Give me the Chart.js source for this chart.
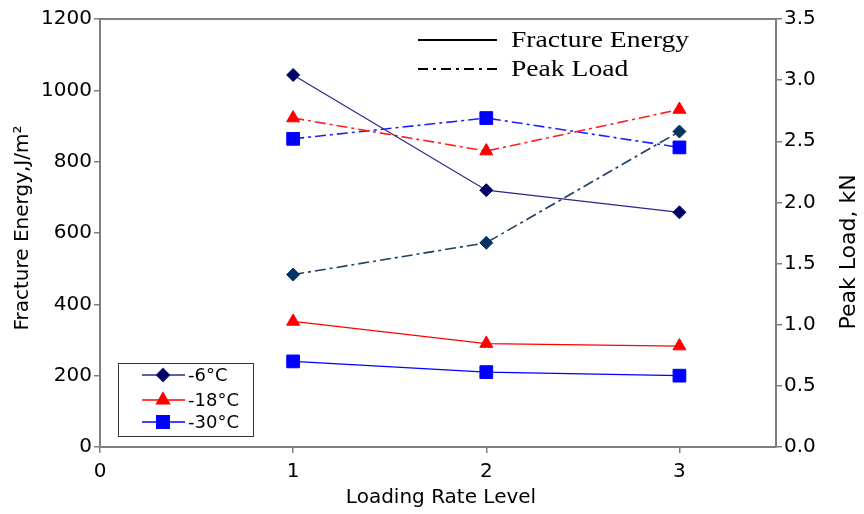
<!DOCTYPE html>
<html>
<head>
<meta charset="utf-8">
<script src="https://cdn.jsdelivr.net/npm/chart.js@4.4.1/dist/chart.umd.min.js"></script>
<style>
  html, body { margin: 0; padding: 0; background: #fff; }
  #wrap { width: 864px; height: 514px; }
</style>
</head>
<body>
<div id="wrap"><canvas id="chart" width="864" height="514"></canvas></div>
<script>
// --- data
var loadingLevels = [1, 2, 3];
var seriesNames = ['-6°C', '-18°C', '-30°C'];

// fracture energy, J/m2 (left axis)
var energyM6 = [1043, 720, 658];
var energyM18 = [352, 290, 283];
var energyM30 = [240, 210, 200];

// peak load, kN (right axis)
var loadM6 = [1.41, 1.67, 2.58];
var loadM18 = [2.69, 2.42, 2.76];
var loadM30 = [2.52, 2.69, 2.45];

var energyTicks = [0, 200, 400, 600, 800, 1000, 1200];
var loadTicks = [0, 0.5, 1, 1.5, 2, 2.5, 3, 3.5];
var xTicks = [0, 1, 2, 3];

var xTitle = 'Loading Rate Level';
var yTitle = 'Fracture Energy,J/m²';
var y1Title = 'Peak Load, kN';

// --- helpers
var dashDot = [11, 4, 3, 4];
function pts(vals) {
    return vals.map(function (v, i) { return { x: loadingLevels[i], y: v }; });
}
function series(label, vals, axis, color, markColor, shape, radius, dash, width) {
    return {
        label: label,
        data: pts(vals),
        yAxisID: axis,
        borderColor: color,
        backgroundColor: markColor,
        pointBackgroundColor: markColor,
        pointBorderColor: markColor,
        pointStyle: shape,
        pointRadius: radius,
        pointBorderWidth: 1,
        borderWidth: width,
        borderDash: dash,
        tension: 0,
        fill: false
    };
}
function fixedTicks(list) {
    return function (ax) { ax.ticks = list.map(function (v) { return { value: v }; }); };
}

var axisGray = '#7f7f7f';
var sans = '"DejaVu Sans", "Liberation Sans", Arial, sans-serif';
var tickFont = { family: sans, size: 20 };

// frame, axis titles and the two legends
var decorPlugin = {
    id: 'decor',
    afterDraw: function (chart) {
        var ctx = chart.ctx, a = chart.chartArea;
        ctx.save();
        // top border of the frame
        ctx.strokeStyle = axisGray;
        ctx.lineWidth = 2;
        ctx.beginPath();
        ctx.moveTo(a.left, a.top);
        ctx.lineTo(a.right, a.top);
        ctx.stroke();

        // axis titles
        ctx.fillStyle = '#000';
        ctx.font = '20px ' + sans;
        ctx.textAlign = 'center';
        ctx.textBaseline = 'middle';
        ctx.fillText(xTitle, 441, 498);
        ctx.save();
        ctx.translate(23, 228);
        ctx.rotate(-Math.PI / 2);
        ctx.fillText(yTitle, 0, 0);
        ctx.restore();
        ctx.save();
        ctx.font = '22px ' + sans;
        ctx.translate(849, 252);
        ctx.rotate(-Math.PI / 2);
        ctx.fillText(y1Title, 0, 0);
        ctx.restore();
        ctx.textAlign = 'left';

        // line style legend (top right)
        ctx.strokeStyle = '#000';
        ctx.lineWidth = 2;
        ctx.beginPath();
        ctx.moveTo(418, 40); ctx.lineTo(497, 40);
        ctx.stroke();
        ctx.setLineDash([10, 5, 3, 5]);
        ctx.beginPath();
        ctx.moveTo(418, 69); ctx.lineTo(497, 69);
        ctx.stroke();
        ctx.setLineDash([]);
        ctx.save();
        ctx.scale(1.2, 1);
        ctx.font = '23px "Liberation Serif", "Times New Roman", serif';
        ctx.fillText('Fracture Energy', 511 / 1.2, 41);
        ctx.fillText('Peak Load', 511 / 1.2, 70);
        ctx.restore();

        // temperature legend (bottom left box)
        ctx.strokeStyle = '#333';
        ctx.lineWidth = 1;
        ctx.strokeRect(118.5, 363.5, 135, 73);
        var ys = [375, 400, 422];
        var sets = chart.data.datasets.slice(0, 3);
        sets.forEach(function (ds, i) {
            ctx.strokeStyle = ds.borderColor;
            ctx.lineWidth = 1.3;
            ctx.beginPath();
            ctx.moveTo(142, ys[i]); ctx.lineTo(185, ys[i]);
            ctx.stroke();
            Chart.helpers.drawPoint(ctx, {
                pointStyle: ds.pointStyle,
                radius: ds.pointRadius,
                borderWidth: 1,
                rotation: 0
            }, 163, ys[i]);
            ctx.fillStyle = ds.pointBackgroundColor;
            ctx.fill();
            ctx.fillStyle = '#000';
            ctx.font = '18px ' + sans;
            ctx.fillText(ds.label, 188, ys[i] + 1);
        });
        ctx.restore();
    }
};

new Chart(document.getElementById('chart'), {
    type: 'line',
    data: {
        datasets: [
            series(seriesNames[0], energyM6, 'y', '#2a2a8c', '#000066', 'rectRot', 6.5, [], 1.3),
            series(seriesNames[1], energyM18, 'y', '#ff0000', '#ff0000', 'triangle', 7.5, [], 1.3),
            series(seriesNames[2], energyM30, 'y', '#0000ff', '#0000ff', 'rect', 9, [], 1.3),
            series(seriesNames[0], loadM6, 'y1', '#1f3f66', '#003366', 'rectRot', 6.5, dashDot, 1.6),
            series(seriesNames[1], loadM18, 'y1', '#ff2020', '#ff0000', 'triangle', 7.5, dashDot, 1.6),
            series(seriesNames[2], loadM30, 'y1', '#2020ff', '#0000ff', 'rect', 9, dashDot, 1.6)
        ]
    },
    options: {
        responsive: false,
        animation: false,
        layout: { padding: { top: 19, right: 0, bottom: 0, left: 0 } },
        plugins: { legend: { display: false }, tooltip: { enabled: false } },
        scales: {
            x: {
                type: 'linear',
                min: 0,
                max: 3.5,
                afterBuildTicks: fixedTicks(xTicks),
                afterFit: function (ax) { ax.height = 67; },
                grid: { drawOnChartArea: false, tickLength: 6, color: axisGray, lineWidth: 1.5 },
                border: { color: axisGray, width: 2 },
                ticks: { color: '#000', font: tickFont, padding: 7, callback: function (v) { return String(v); } }
            },
            y: {
                position: 'left',
                min: 0,
                max: 1200,
                afterBuildTicks: fixedTicks(energyTicks),
                afterFit: function (ax) { ax.width = 100; },
                grid: { drawOnChartArea: false, tickLength: 6, color: axisGray, lineWidth: 1.5 },
                border: { color: axisGray, width: 2 },
                ticks: { color: '#000', font: tickFont, padding: 2, callback: function (v) { return String(v); } }
            },
            y1: {
                position: 'right',
                min: 0,
                max: 3.5,
                afterBuildTicks: fixedTicks(loadTicks),
                afterFit: function (ax) { ax.width = 88; },
                grid: { drawOnChartArea: false, tickLength: 6, color: axisGray, lineWidth: 1.5 },
                border: { color: axisGray, width: 2 },
                ticks: {
                    color: '#000', font: tickFont, padding: 2,
                    callback: function (v) { return Number(v).toFixed(1); }
                }
            }
        }
    },
    plugins: [decorPlugin]
});
</script>
</body>
</html>
